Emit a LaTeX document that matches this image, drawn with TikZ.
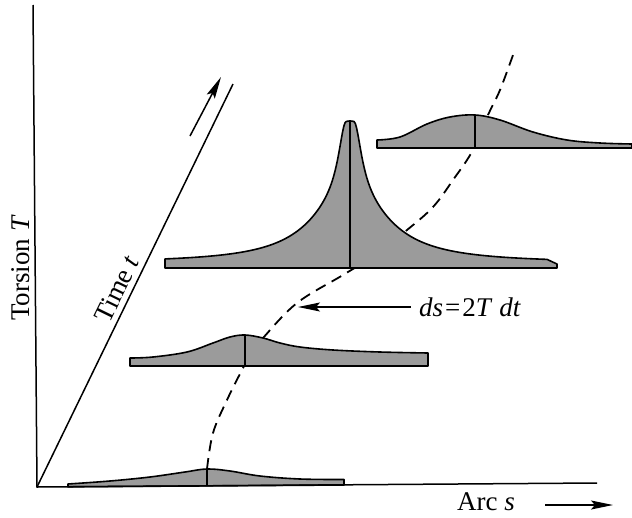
\documentclass[tikz,border=0pt]{standalone}
\usepackage{fontspec}
\setmainfont{Liberation Serif}
\usetikzlibrary{arrows.meta}
\definecolor{shade}{RGB}{155,155,155}
\tikzset{
  axisline/.style={line width=1.5pt},
  prof/.style={fill=shade, draw=black, line width=1.6pt, line join=round},
  baseline/.style={line width=2.4pt},
  midline/.style={line width=1.4pt},
  dashcurve/.style={line width=1.8pt, dash pattern=on 11pt off 7pt},
  arr/.style={line width=1.5pt, -{Stealth[length=22pt,width=9pt,inset=4pt]}},
  lab/.style={font=\fontsize{27}{32}\selectfont, inner sep=1pt}
}
\begin{document}
\begin{tikzpicture}[x=1pt,y=-1pt]
\useasboundingbox (0,0) rectangle (632,517);
% dashed locus of peaks
\draw[dashcurve] plot[smooth, tension=0.6] coordinates {(207,469) (213,433) (227,400) (242,370) (252,352) (263,338) (297,303) (343,275) (375,255) (407,230) (433,207) (453,180) (473,150) (488,115) (500,90) (513,55)};
% profile 4 (top)
\draw[prof] (377,148) -- plot[smooth, tension=0.6] coordinates {(377,140) (400,137) (427,124) (450,117) (475,115) (500,120) (533,132) (567,140) (600,143) (632,144)} -- (632,148) -- cycle;
\draw[baseline] (377,148) -- (632,148);
\draw[midline] (475,115) -- (475,148);
% profile 3 (sharp peak)
\draw[prof] (165,268) -- plot[domain=165:547, samples=300] (\x, {268 - (5 + 70/(1+((\x-350)/45)^2) + 72/(1+(max(abs(\x-350)-4,0)/9)^2))}) -- (557,264) -- (557,268) -- cycle;
\draw[baseline] (165,268) -- (557,268);
\draw[midline] (350,121) -- (350,268);
% profile 2
\draw[prof] (130,366) -- plot[smooth, tension=0.6] coordinates {(130,358) (153,357) (187,352) (213,343) (230,337) (245,335) (263,338) (280,343) (300,347) (333,350) (380,352) (428,353)} -- (428,366) -- cycle;
\draw[baseline] (130,366) -- (428,366);
\draw[midline] (245,335) -- (245,366);
% profile 1 (bottom)
\draw[prof] (68,486.8) -- plot[smooth, tension=0.6] coordinates {(68,484) (110,481) (150,477) (185,472) (207,469) (230,471) (260,476) (300,479) (344,479.5)} -- (344,485) -- cycle;
\draw[midline] (207,469) -- (207,486);
% axes
\coordinate (O) at (37,487);
\coordinate (Ttop) at (33,5);
\coordinate (Send) at (597,483);
\coordinate (tend) at (233,84);
\draw[axisline] (Ttop) -- (O) -- (Send);
\draw[axisline] (O) -- (tend);
% labels
\node[lab, rotate=90] (torsion) at (21,268) {Torsion \textit{T}};
\node[lab, rotate=64] (time) at (117,289) {Time \textit{t}};
\node[lab] (ds) at (470,307) {\textit{ds}\kern2pt=\kern2pt2\textit{T} \textit{dt}};
\node[lab] (arc) at (486,502) {Arc \textit{s}};
% arrows
\coordinate (ta1) at (190,136);
\coordinate (ta2) at (221,77);
\draw[arr] (ta1) -- (ta2);
\coordinate (aa1) at (545,505);
\coordinate (aa2) at (613,505);
\draw[arr] (aa1) -- (aa2);
\coordinate (dstip) at (298,307);
\draw[arr] ([xshift=-7pt]ds.west) -- (dstip);
\end{tikzpicture}
\end{document}
